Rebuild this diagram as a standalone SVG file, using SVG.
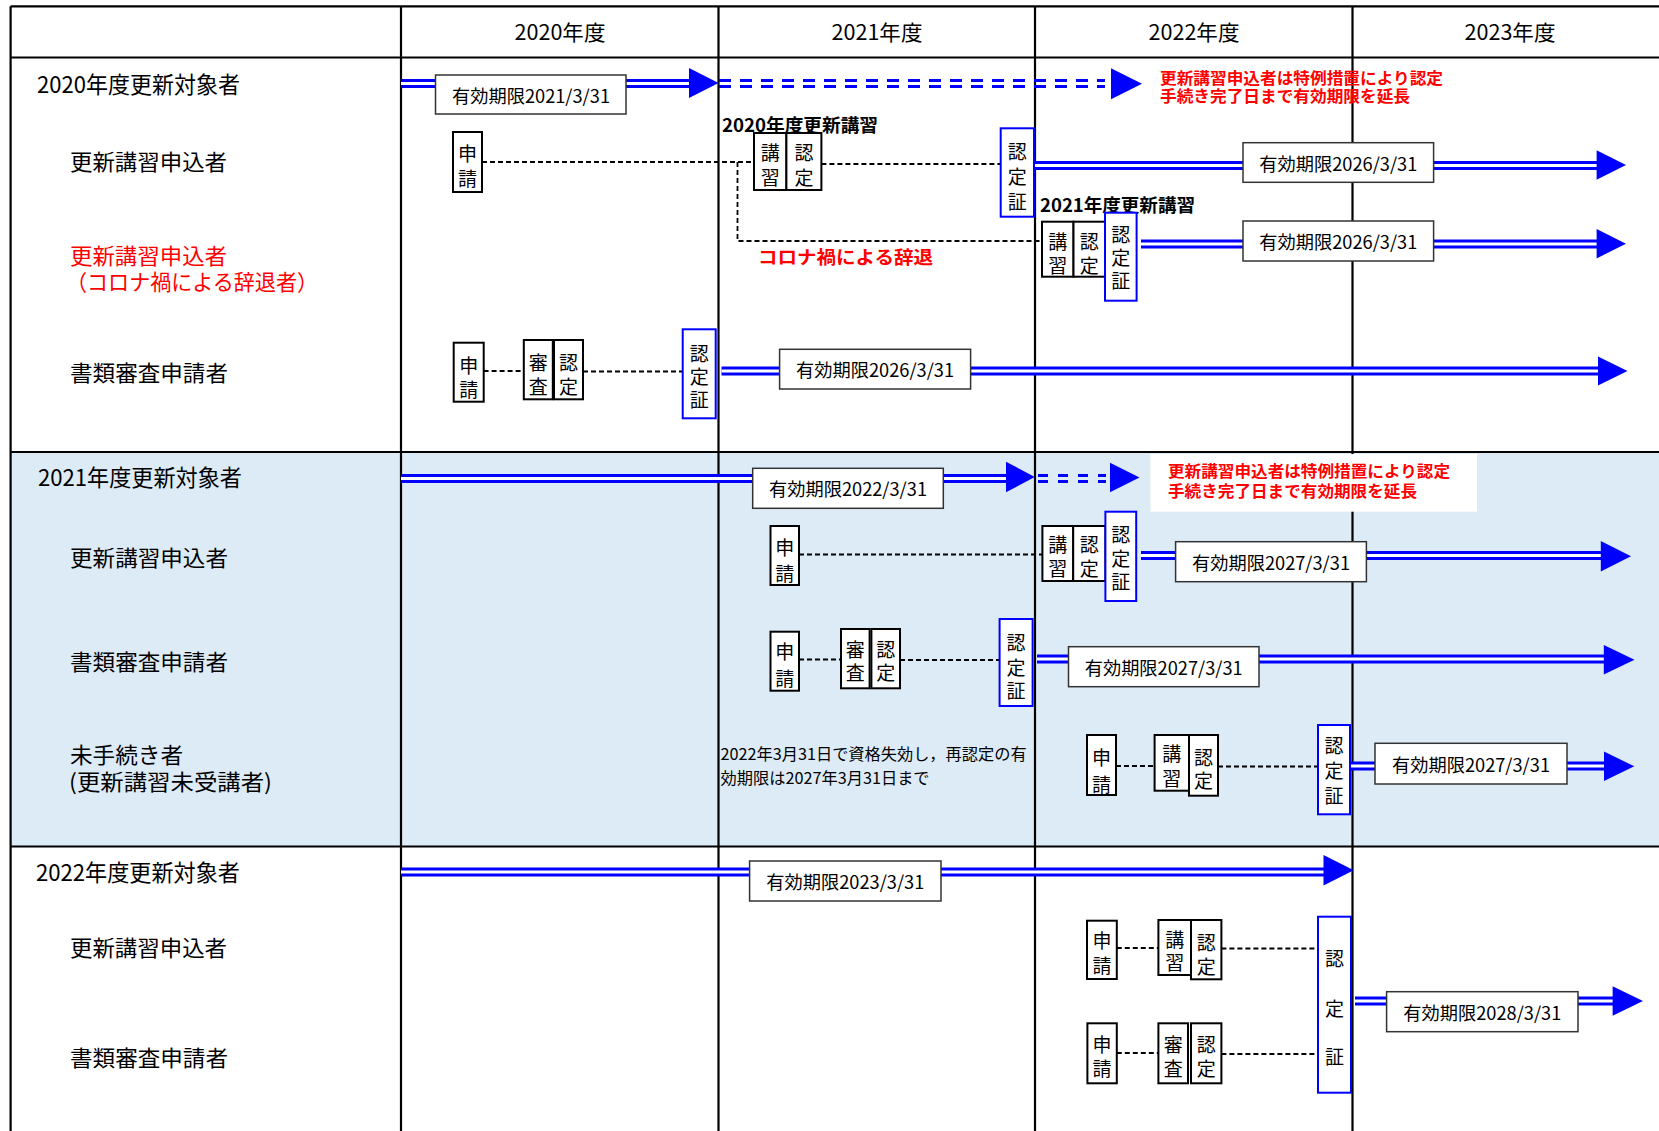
<svg xmlns="http://www.w3.org/2000/svg" xmlns:xlink="http://www.w3.org/1999/xlink" width="1659" height="1131" viewBox="0 0 1659 1131">
<style>
text{font-family:"Noto Sans CJK JP","Noto Sans",sans-serif;fill:#000;dominant-baseline:central}
.grid{stroke:#000;stroke-width:2.2;fill:none}
.box{fill:#fff;stroke:#000;stroke-width:2}
.vbox{fill:#fff;stroke:#0000ff;stroke-width:2}
.lbox{fill:#fff;stroke:#333;stroke-width:1.5}
.c{font-size:19px;text-anchor:middle}
.lt{font-size:18px;text-anchor:middle}
.lab{font-size:22px}
.ttl{font-size:23px}
.hd{font-size:21px;text-anchor:middle}
.red{fill:#ff0000}
.bold{font-weight:bold}
.note{font-size:16px;font-weight:bold;fill:#ff0000}
.dash{fill:none;stroke:#000;stroke-width:1.8;stroke-dasharray:5 3}
.dblB{stroke:#0000ff;stroke-width:9;fill:none}
.dblW{stroke:#fff;stroke-width:3;fill:none}
.ddash{stroke:#0000ff;stroke-width:3;fill:none}
.ah{fill:#0000ff}
</style>
<defs>
<path id="dbl" d="M401 83.5H435.5M626 83.5H692M1034 165.5H1243M1434 165.5H1600M1141 244H1243M1434 244H1600M721.5 371H779.6M970.6 371H1601M401 478.5H752.7M943.3 478.5H1009M1141 555.5H1175.6M1366.4 555.5H1604M1037 659H1068.5M1259 659H1607M1350 766H1375M1567 766H1607M401 872H749.6M941 872H1327M1355 1001H1386.6M1578 1001H1616"/>
</defs>
<rect x="0" y="0" width="1659" height="1131" fill="#fff"/>
<g id="grid">
<rect x="10.6" y="452" width="1649" height="394.5" fill="#ddebf7"/>
<path class="grid" d="M10.6 6.3H1659M10.6 57.5H1659M10.6 452H1659M10.6 846.5H1659M10.6 6.3V1131M401 6.3V1131M718.5 6.3V1131M1035 6.3V1131M1352.5 6.3V1131"/>
<text class="hd" x="560" y="31" textLength="91" lengthAdjust="spacingAndGlyphs">2020年度</text>
<text class="hd" x="877" y="31" textLength="91" lengthAdjust="spacingAndGlyphs">2021年度</text>
<text class="hd" x="1194" y="31" textLength="91" lengthAdjust="spacingAndGlyphs">2022年度</text>
<text class="hd" x="1510" y="31" textLength="91" lengthAdjust="spacingAndGlyphs">2023年度</text>
</g>
<g id="labels">
<text class="ttl" x="37" y="83" textLength="203" lengthAdjust="spacingAndGlyphs">2020年度更新対象者</text>
<text class="lab" x="70" y="160" textLength="157" lengthAdjust="spacingAndGlyphs">更新講習申込者</text>
<text class="lab red"><tspan x="70" y="254" textLength="157" lengthAdjust="spacingAndGlyphs">更新講習申込者</tspan><tspan x="66" y="280" textLength="252" lengthAdjust="spacingAndGlyphs">（コロナ禍による辞退者）</tspan></text>
<text class="lab" x="70" y="370.5" textLength="158" lengthAdjust="spacingAndGlyphs">書類審査申請者</text>
<text class="ttl" x="38" y="476" textLength="204" lengthAdjust="spacingAndGlyphs">2021年度更新対象者</text>
<text class="lab" x="70" y="555.5" textLength="158" lengthAdjust="spacingAndGlyphs">更新講習申込者</text>
<text class="lab" x="70" y="659.5" textLength="158" lengthAdjust="spacingAndGlyphs">書類審査申請者</text>
<text class="lab"><tspan x="70" y="753" textLength="113" lengthAdjust="spacingAndGlyphs">未手続き者</tspan><tspan x="69" y="779.5" textLength="203" lengthAdjust="spacingAndGlyphs">(更新講習未受講者)</tspan></text>
<text class="ttl" x="36" y="871" textLength="204" lengthAdjust="spacingAndGlyphs">2022年度更新対象者</text>
<text class="lab" x="70" y="946" textLength="157" lengthAdjust="spacingAndGlyphs">更新講習申込者</text>
<text class="lab" x="70" y="1056" textLength="158" lengthAdjust="spacingAndGlyphs">書類審査申請者</text>
</g>
<g id="connectors">
<use xlink:href="#dbl" class="dblB"/>
<use xlink:href="#dbl" class="dblW"/>
<path class="ddash" stroke-dasharray="12 9" d="M719 80.5H1105M719 86.5H1105"/>
<path class="ddash" stroke-dasharray="10 10" d="M1038 475.5H1106M1038 481.5H1106"/>
<path class="dash" d="M482 162H754M737.5 162V241H1042M821.4 164H1000.7M483.6 371H523.8M583 371.5H682.7M799 554.5H1042.4M799 659.5H841M900 660H999.6M1116 766H1154.6M1218 766.5H1318M1116.8 948H1158.4M1221.4 948.5H1318M1116.8 1053H1158.4M1221.4 1054H1318"/>
<polygon class="ah" points="689,68 718.6,83 689,98"/>
<polygon class="ah" points="1111,68.3 1142,83.8 1111,99.3"/>
<polygon class="ah" points="1596.6,150.3 1626,165 1596.6,179.7"/>
<polygon class="ah" points="1596.6,229 1626,243.7 1596.6,258.4"/>
<polygon class="ah" points="1598,356.5 1627.5,371 1598,385.5"/>
<polygon class="ah" points="1006,461.7 1034.8,477 1006,492.3"/>
<polygon class="ah" points="1110,462.7 1139.5,477.5 1110,492.3"/>
<polygon class="ah" points="1600.8,541 1631,556.3 1600.8,571.6"/>
<polygon class="ah" points="1603.8,645 1634.5,659.7 1603.8,674.4"/>
<polygon class="ah" points="1604,751.6 1634.3,766.3 1604,781"/>
<polygon class="ah" points="1323.5,855 1353.8,870.3 1323.5,885.6"/>
<polygon class="ah" points="1612.6,986.2 1643,1001 1612.6,1015.8"/>
</g>
<g id="notes">
<text class="note"><tspan x="1160" y="76.7" textLength="283" lengthAdjust="spacingAndGlyphs">更新講習申込者は特例措置により認定</tspan><tspan x="1160" y="95" textLength="250" lengthAdjust="spacingAndGlyphs">手続き完了日まで有効期限を延長</tspan></text>
<text class="bold" x="722" y="124" font-size="18" textLength="156" lengthAdjust="spacingAndGlyphs">2020年度更新講習</text>
<text class="bold" x="1040" y="204" font-size="18" textLength="155" lengthAdjust="spacingAndGlyphs">2021年度更新講習</text>
<text class="bold red" x="758" y="256" font-size="18" textLength="175" lengthAdjust="spacingAndGlyphs">コロナ禍による辞退</text>
<rect x="1150.4" y="454" width="326.6" height="57.7" fill="#fff"/>
<text class="note"><tspan x="1168" y="470" textLength="282" lengthAdjust="spacingAndGlyphs">更新講習申込者は特例措置により認定</tspan><tspan x="1168" y="490" textLength="249" lengthAdjust="spacingAndGlyphs">手続き完了日まで有効期限を延長</tspan></text>
<text font-size="16"><tspan x="720.6" y="753.3" textLength="306" lengthAdjust="spacingAndGlyphs">2022年3月31日で資格失効し，再認定の有</tspan><tspan x="720.6" y="777.3" textLength="209" lengthAdjust="spacingAndGlyphs">効期限は2027年3月31日まで</tspan></text>
</g>
<g id="validity">
<g id="v2021"><rect class="lbox" x="435.5" y="75" width="190.5" height="39"/><text class="lt" x="531" y="94.5" textLength="158" lengthAdjust="spacingAndGlyphs">有効期限2021/3/31</text></g>
<g id="v2026a"><rect class="lbox" x="1243" y="142.7" width="190.6" height="39.6"/><text class="lt" x="1338.3" y="162.5" textLength="158" lengthAdjust="spacingAndGlyphs">有効期限2026/3/31</text></g>
<g id="v2026b"><rect class="lbox" x="1243" y="221" width="190.6" height="40"/><text class="lt" x="1338.3" y="241" textLength="158" lengthAdjust="spacingAndGlyphs">有効期限2026/3/31</text></g>
<g id="v2026c"><rect class="lbox" x="779.6" y="349.3" width="191" height="39.7"/><text class="lt" x="875.1" y="369.2" textLength="158" lengthAdjust="spacingAndGlyphs">有効期限2026/3/31</text></g>
<g id="v2022"><rect class="lbox" x="752.7" y="468.3" width="190.6" height="40"/><text class="lt" x="848" y="488.3" textLength="158" lengthAdjust="spacingAndGlyphs">有効期限2022/3/31</text></g>
<g id="v2027a"><rect class="lbox" x="1175.6" y="541.7" width="190.8" height="40"/><text class="lt" x="1271" y="561.7" textLength="158" lengthAdjust="spacingAndGlyphs">有効期限2027/3/31</text></g>
<g id="v2027b"><rect class="lbox" x="1068.5" y="646.7" width="190.5" height="40"/><text class="lt" x="1163.7" y="666.7" textLength="158" lengthAdjust="spacingAndGlyphs">有効期限2027/3/31</text></g>
<g id="v2027c"><rect class="lbox" x="1375" y="743.3" width="192" height="40.7"/><text class="lt" x="1471" y="763.7" textLength="158" lengthAdjust="spacingAndGlyphs">有効期限2027/3/31</text></g>
<g id="v2023"><rect class="lbox" x="749.6" y="861" width="191.4" height="40"/><text class="lt" x="845.3" y="881" textLength="158" lengthAdjust="spacingAndGlyphs">有効期限2023/3/31</text></g>
<g id="v2028"><rect class="lbox" x="1386.6" y="991.7" width="191.4" height="40"/><text class="lt" x="1482.3" y="1011.7" textLength="158" lengthAdjust="spacingAndGlyphs">有効期限2028/3/31</text></g>
</g>
<g id="steps">
<g id="s1a-apply"><rect class="box" x="453" y="132" width="29" height="60"/><text class="c"><tspan x="467.5" y="151.7">申</tspan><tspan x="467.5" y="176.7">請</tspan></text></g>
<g id="s1a-lecture"><rect class="box" x="754" y="133" width="32.4" height="57"/><text class="c"><tspan x="770.2" y="150.7">講</tspan><tspan x="770.2" y="175.7">習</tspan></text></g>
<g id="s1a-cert"><rect class="box" x="786.4" y="133" width="35" height="57"/><text class="c"><tspan x="803.9" y="150.7">認</tspan><tspan x="803.9" y="175.7">定</tspan></text></g>
<g id="s1a-card"><rect class="vbox" x="1000.7" y="128.3" width="33.3" height="88.4"/><text class="c"><tspan x="1017.3" y="150">認</tspan><tspan x="1017.3" y="175">定</tspan><tspan x="1017.3" y="200">証</tspan></text></g>
<g id="s1b-lecture"><rect class="box" x="1042" y="221.7" width="31.5" height="55"/><text class="c"><tspan x="1057.7" y="240">講</tspan><tspan x="1057.7" y="264">習</tspan></text></g>
<g id="s1b-cert"><rect class="box" x="1073.5" y="221.7" width="31.5" height="55"/><text class="c"><tspan x="1089.2" y="240">認</tspan><tspan x="1089.2" y="264">定</tspan></text></g>
<g id="s1b-card"><rect class="vbox" x="1105" y="212.7" width="31.6" height="88"/><text class="c"><tspan x="1120.8" y="233">認</tspan><tspan x="1120.8" y="256">定</tspan><tspan x="1120.8" y="279">証</tspan></text></g>
<g id="s1c-apply"><rect class="box" x="453.7" y="342.7" width="30" height="59"/><text class="c"><tspan x="468.7" y="364">申</tspan><tspan x="468.7" y="388">請</tspan></text></g>
<g id="s1c-review"><rect class="box" x="523.8" y="340" width="29" height="59.3"/><text class="c"><tspan x="538.3" y="361">審</tspan><tspan x="538.3" y="385">査</tspan></text></g>
<g id="s1c-cert"><rect class="box" x="554" y="340" width="29" height="59.3"/><text class="c"><tspan x="568.5" y="361">認</tspan><tspan x="568.5" y="385">定</tspan></text></g>
<g id="s1c-card"><rect class="vbox" x="682.7" y="329.3" width="33" height="89"/><text class="c"><tspan x="699.2" y="351.7">認</tspan><tspan x="699.2" y="375">定</tspan><tspan x="699.2" y="398">証</tspan></text></g>
<g id="s2a-apply"><rect class="box" x="770.5" y="526" width="28.5" height="59"/><text class="c"><tspan x="784.7" y="546">申</tspan><tspan x="784.7" y="571.5">請</tspan></text></g>
<g id="s2a-lecture"><rect class="box" x="1042.4" y="526" width="30.8" height="55"/><text class="c"><tspan x="1057.8" y="543.3">講</tspan><tspan x="1057.8" y="567">習</tspan></text></g>
<g id="s2a-cert"><rect class="box" x="1073.2" y="526" width="32.2" height="55"/><text class="c"><tspan x="1089.3" y="543.3">認</tspan><tspan x="1089.3" y="567">定</tspan></text></g>
<g id="s2a-card"><rect class="vbox" x="1105.4" y="511.7" width="30.8" height="89.3"/><text class="c"><tspan x="1120.8" y="533">認</tspan><tspan x="1120.8" y="556.7">定</tspan><tspan x="1120.8" y="580">証</tspan></text></g>
<g id="s2b-apply"><rect class="box" x="770.5" y="631.7" width="28.5" height="59"/><text class="c"><tspan x="784.7" y="650">申</tspan><tspan x="784.7" y="676.7">請</tspan></text></g>
<g id="s2b-review"><rect class="box" x="841" y="629" width="28.6" height="59.3"/><text class="c"><tspan x="855.3" y="647.5">審</tspan><tspan x="855.3" y="671">査</tspan></text></g>
<g id="s2b-cert"><rect class="box" x="871.4" y="629" width="28.6" height="59.3"/><text class="c"><tspan x="885.7" y="647.5">認</tspan><tspan x="885.7" y="671">定</tspan></text></g>
<g id="s2b-card"><rect class="vbox" x="999.6" y="619" width="33" height="87"/><text class="c"><tspan x="1016.1" y="641">認</tspan><tspan x="1016.1" y="666">定</tspan><tspan x="1016.1" y="689">証</tspan></text></g>
<g id="s2c-apply"><rect class="box" x="1087" y="735" width="29" height="60"/><text class="c"><tspan x="1101.5" y="755.8">申</tspan><tspan x="1101.5" y="782.5">請</tspan></text></g>
<g id="s2c-lecture"><rect class="box" x="1154.6" y="735" width="34.4" height="55.7"/><text class="c"><tspan x="1171.8" y="751.7">講</tspan><tspan x="1171.8" y="777">習</tspan></text></g>
<g id="s2c-cert"><rect class="box" x="1189" y="735" width="29" height="60.7"/><text class="c"><tspan x="1203.5" y="756">認</tspan><tspan x="1203.5" y="779">定</tspan></text></g>
<g id="s2c-card"><rect class="vbox" x="1318" y="725" width="32" height="89.3"/><text class="c"><tspan x="1334" y="744">認</tspan><tspan x="1334" y="769">定</tspan><tspan x="1334" y="794">証</tspan></text></g>
<g id="s3a-apply"><rect class="box" x="1087" y="920.7" width="29.8" height="58.3"/><text class="c"><tspan x="1101.9" y="939">申</tspan><tspan x="1101.9" y="964">請</tspan></text></g>
<g id="s3a-lecture"><rect class="box" x="1158.4" y="920" width="32.6" height="55"/><text class="c"><tspan x="1174.7" y="937.5">講</tspan><tspan x="1174.7" y="961">習</tspan></text></g>
<g id="s3a-cert"><rect class="box" x="1191" y="920" width="30.4" height="59.3"/><text class="c"><tspan x="1206.2" y="941">認</tspan><tspan x="1206.2" y="965">定</tspan></text></g>
<g id="s3b-apply"><rect class="box" x="1087.4" y="1023.3" width="29.4" height="60"/><text class="c"><tspan x="1102.1" y="1042.5">申</tspan><tspan x="1102.1" y="1067">請</tspan></text></g>
<g id="s3b-review"><rect class="box" x="1158.4" y="1023.3" width="29.6" height="60"/><text class="c"><tspan x="1173.2" y="1042.5">審</tspan><tspan x="1173.2" y="1067">査</tspan></text></g>
<g id="s3b-cert"><rect class="box" x="1191" y="1023.3" width="30.4" height="60"/><text class="c"><tspan x="1206.2" y="1042.5">認</tspan><tspan x="1206.2" y="1067">定</tspan></text></g>
<g id="s3-card"><rect class="vbox" x="1318" y="916.7" width="33" height="176"/><text class="c"><tspan x="1334.5" y="957">認</tspan><tspan x="1334.5" y="1007">定</tspan><tspan x="1334.5" y="1055">証</tspan></text></g>
</g>
</svg>
